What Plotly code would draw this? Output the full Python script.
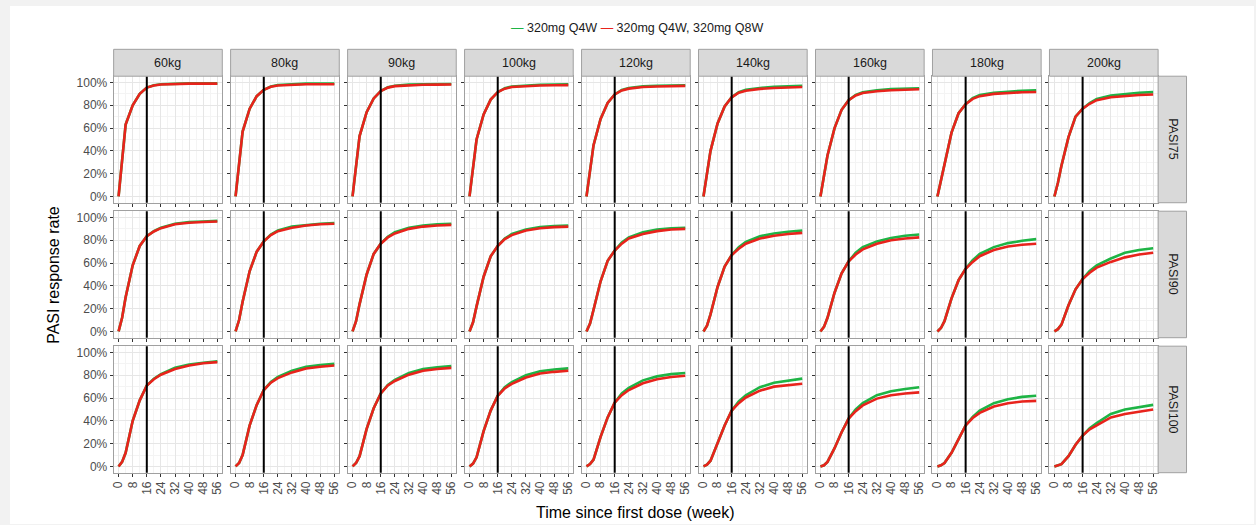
import plotly.graph_objects as go

W, H = 1256, 525

WEEKS = [0, 2, 4, 8, 12, 16, 20, 24, 32, 40, 48, 56]
REF_WEEK = 16
WEIGHTS = ["60kg", "80kg", "90kg", "100kg", "120kg", "140kg", "160kg", "180kg", "200kg"]
ENDPOINTS = ["PASI75", "PASI90", "PASI100"]
Y_TICKS = [0, 20, 40, 60, 80, 100]
X_TICKS = [0, 8, 16, 24, 32, 40, 48, 56]
SERIES = ["320mg Q4W", "320mg Q4W, 320mg Q8W"]

# PASI75 response (%), one list per weight
PASI75_Q4W = [
    [0, 35, 63, 80, 90, 95.5, 97.5, 98.5, 99, 99.2, 99.2, 99.2],
    [0, 30, 57, 77, 88, 93.5, 96.5, 97.8, 98.7, 99, 99, 99],
    [0, 27, 53, 74, 86, 92.5, 95.8, 97.2, 98.2, 98.5, 98.6, 98.7],
    [0, 25, 50, 72, 85, 91.5, 95, 96.5, 97.5, 98, 98.2, 98.3],
    [0, 22, 45, 68, 82, 89.5, 93.5, 95.2, 96.6, 97.1, 97.4, 97.6],
    [0, 19, 40, 64, 79, 87, 91.5, 93.5, 95.2, 96.1, 96.6, 97],
    [0, 17, 36, 60, 76, 84.5, 89.2, 91.5, 93.2, 94.2, 94.7, 95],
    [0, 14, 31, 56, 73, 81, 86.3, 89, 91, 92.2, 92.8, 93.2],
    [0, 12, 27, 52, 70, 77, 82, 85.5, 88.5, 90, 91, 91.5],
]
PASI75_Q4W_Q8W = [
    [0, 35, 63, 80, 90, 95.5, 97.4, 98.3, 98.8, 99, 99, 99],
    [0, 30, 57, 77, 88, 93.5, 96.2, 97.4, 98.2, 98.5, 98.5, 98.5],
    [0, 27, 53, 74, 86, 92.5, 95.5, 96.8, 97.7, 98, 98.1, 98.2],
    [0, 25, 50, 72, 85, 91.5, 94.6, 96, 97, 97.4, 97.6, 97.7],
    [0, 22, 45, 68, 82, 89.5, 93, 94.6, 96, 96.5, 96.8, 97],
    [0, 19, 40, 64, 79, 87, 91, 92.8, 94.4, 95.2, 95.7, 96],
    [0, 17, 36, 60, 76, 84.5, 88.6, 90.7, 92.3, 93.2, 93.7, 94],
    [0, 14, 31, 56, 73, 81, 85.6, 88, 90, 91, 91.4, 91.7],
    [0, 12, 27, 52, 70, 77, 81.3, 84.5, 87, 88.3, 89, 89.5],
]
# PASI90 response (%)
PASI90_Q4W = [
    [0, 12, 30, 58, 75, 83.5, 88, 91, 94.5, 96, 96.5, 97],
    [0, 10, 26, 53, 70, 79, 85, 88.5, 92, 93.5, 94.5, 95],
    [0, 9, 24, 50, 68, 77, 83, 87, 91, 93, 94, 94.5],
    [0, 8, 22, 48, 66, 75, 81.5, 85.5, 89.5, 91.5, 92.5, 93],
    [0, 7, 19, 44, 62, 71, 78, 82.5, 87, 89.5, 90.5, 91],
    [0, 5, 15, 39, 57, 67, 74, 78.5, 83.5, 86, 87.5, 88.5],
    [0, 4, 12, 34, 51, 61.5, 69, 74, 79, 82, 84, 85],
    [0, 3, 9, 29, 45, 55, 62.5, 68, 74, 77.5, 79.5, 81],
    [0, 2, 6, 23, 37, 46, 53, 58, 64, 69, 71.5, 73],
]
PASI90_Q4W_Q8W = [
    [0, 12, 30, 58, 75, 83.5, 87.7, 90.6, 94, 95.4, 96, 96.5],
    [0, 10, 26, 53, 70, 79, 84.5, 88, 91, 93, 94, 94.5],
    [0, 9, 24, 50, 68, 77, 82.5, 86, 90, 92, 93, 93.5],
    [0, 8, 22, 48, 66, 75, 81, 84.5, 88.5, 90.5, 91.5, 92],
    [0, 7, 19, 44, 62, 71, 77, 81.5, 85.5, 88, 89.5, 90],
    [0, 5, 15, 39, 57, 67, 72.5, 77, 81.5, 84, 85.5, 86.5],
    [0, 4, 12, 34, 51, 61.5, 67.5, 72, 77, 80, 81.5, 82.5],
    [0, 3, 9, 29, 45, 55, 61, 66, 71.5, 74.5, 76, 77],
    [0, 2, 6, 23, 37, 46, 51.5, 56, 61, 65, 67.5, 69],
]
# PASI100 response (%)
PASI100_Q4W = [
    [0, 4, 12, 40, 58, 71, 77, 81, 86.5, 89.5, 91, 92.3],
    [0, 3, 10, 36, 54, 67, 74, 78.5, 84, 87.5, 89, 90],
    [0, 3, 9, 33, 51, 64, 71.5, 76, 82, 85.5, 87, 88],
    [0, 2.5, 8, 31, 49, 62, 69.5, 74, 80, 83.5, 85, 86],
    [0, 2, 6, 26, 43, 56, 64, 69, 75.5, 79, 81, 82],
    [0, 1.5, 5, 21, 36, 49, 57, 62.5, 69.5, 73.5, 75.5, 77],
    [0, 1, 4, 16, 30, 42, 50, 55.5, 62.5, 66, 68, 69.5],
    [0, 1, 3, 12, 24, 36, 43.5, 49, 55.5, 59, 61, 62],
    [0, 1, 2, 9, 19, 27, 33.5, 38, 46, 50, 52, 54],
]
PASI100_Q4W_Q8W = [
    [0, 4, 12, 40, 58, 71, 76.5, 80.5, 85.5, 88.5, 90.5, 91.5],
    [0, 3, 10, 36, 54, 67, 73.5, 77.5, 82.5, 86, 87.5, 88.5],
    [0, 3, 9, 33, 51, 64, 71, 75, 80.5, 84, 85.5, 86.5],
    [0, 2.5, 8, 31, 49, 62, 68.5, 72.5, 78, 81.5, 83, 84],
    [0, 2, 6, 26, 43, 56, 62.5, 67, 73, 76.5, 78.5, 79.5],
    [0, 1.5, 5, 21, 36, 49, 55.5, 60.5, 66.5, 70, 71.5, 72.5],
    [0, 1, 4, 16, 30, 42, 48.5, 53.5, 59.5, 62.5, 64, 65],
    [0, 1, 3, 12, 24, 36, 42.5, 47, 52.5, 55.5, 57, 57.5],
    [0, 1, 2, 9, 19, 27, 32.5, 36, 43, 46, 48, 50],
]

DATA = {
    "PASI75": (PASI75_Q4W, PASI75_Q4W_Q8W),
    "PASI90": (PASI90_Q4W, PASI90_Q4W_Q8W),
    "PASI100": (PASI100_Q4W, PASI100_Q4W_Q8W),
}

GREEN = "#1EB445"
RED = "#E8231C"
FONT = "Liberation Sans, Arial, sans-serif"

# layout geometry in pixels
PX_LEFT, PX_STEP, PX_W = 112.0, 117.35, 109.0
ROW_TOPS = [75.5, 211.0, 346.5]
PX_H = 127.0
STRIP_H = 27.0
RSTRIP_W = 28.5

fig = go.Figure()
layout = {}
shapes = []
annotations = []

# page background (light grey margins)
shapes.append(dict(type="rect", xref="paper", yref="paper", x0=8 / W, x1=1, y0=0, y1=1 - 5 / H,
                   fillcolor="white", line=dict(width=0), layer="below"))

for r, ep in enumerate(ENDPOINTS):
    g_list, r_list = DATA[ep]
    for c, wt in enumerate(WEIGHTS):
        k = r * len(WEIGHTS) + c + 1
        xs = "" if k == 1 else str(k)
        x0p = PX_LEFT + c * PX_STEP
        x1p = x0p + PX_W
        y0p = ROW_TOPS[r]
        y1p = y0p + PX_H
        xd = [x0p / W, x1p / W]
        yd = [1 - y1p / H, 1 - y0p / H]
        layout["xaxis" + xs] = dict(
            domain=xd, anchor="y" + xs, range=[-2.8, 58.8],
            tickvals=X_TICKS, ticktext=[str(v) for v in X_TICKS],
            showticklabels=(r == len(ENDPOINTS) - 1),
            tickangle=-90, ticks="outside", ticklen=3, tickcolor="#333333", tickwidth=1,
            tickfont=dict(family=FONT, size=12, color="#4D4D4D"),
            showgrid=True, gridcolor="#E6E6E6", gridwidth=1,
            minor=dict(dtick=4, tick0=0, showgrid=True, gridcolor="#F4F4F4", gridwidth=1, ticks=""),
            showline=True, mirror=True, linecolor="#A0A0A0", linewidth=1,
            zeroline=False, fixedrange=True,
        )
        layout["yaxis" + xs] = dict(
            domain=yd, anchor="x" + xs, range=[-5.5, 105.5],
            tickvals=Y_TICKS, ticktext=[f"{v}%" for v in Y_TICKS],
            showticklabels=(c == 0),
            ticks="outside", ticklen=3, tickcolor="#333333", tickwidth=1,
            tickfont=dict(family=FONT, size=12, color="#4D4D4D"),
            showgrid=True, gridcolor="#E6E6E6", gridwidth=1,
            minor=dict(dtick=10, tick0=0, showgrid=True, gridcolor="#F4F4F4", gridwidth=1, ticks=""),
            showline=True, mirror=True, linecolor="#A0A0A0", linewidth=1,
            zeroline=False, fixedrange=True,
        )
        fig.add_trace(go.Scatter(x=WEEKS, y=g_list[c], mode="lines", name=SERIES[0],
                                 line=dict(color=GREEN, width=2.6), showlegend=False,
                                 xaxis="x" + xs, yaxis="y" + xs))
        fig.add_trace(go.Scatter(x=WEEKS, y=r_list[c], mode="lines", name=SERIES[1],
                                 line=dict(color=RED, width=2.6), showlegend=False,
                                 xaxis="x" + xs, yaxis="y" + xs))
        shapes.append(dict(type="line", xref="x" + xs, yref="y" + xs + " domain",
                           x0=REF_WEEK, x1=REF_WEEK, y0=0, y1=1,
                           line=dict(color="black", width=2)))
        # top strips
        if r == 0:
            shapes.append(dict(type="rect", xref="paper", yref="paper",
                               x0=xd[0], x1=xd[1], y0=1 - y0p / H, y1=1 - (y0p - STRIP_H) / H,
                               fillcolor="#D9D9D9", line=dict(color="#A0A0A0", width=1)))
            annotations.append(dict(text=wt, xref="paper", yref="paper",
                                    x=(xd[0] + xd[1]) / 2, y=1 - (y0p - STRIP_H / 2) / H,
                                    showarrow=False, xanchor="center", yanchor="middle",
                                    font=dict(family=FONT, size=12.5, color="#1A1A1A")))
        # right strips
        if c == len(WEIGHTS) - 1:
            shapes.append(dict(type="rect", xref="paper", yref="paper",
                               x0=x1p / W, x1=(x1p + RSTRIP_W) / W, y0=yd[0], y1=yd[1],
                               fillcolor="#D9D9D9", line=dict(color="#A0A0A0", width=1)))
            annotations.append(dict(text=ep, xref="paper", yref="paper",
                                    x=(x1p + RSTRIP_W / 2) / W, y=(yd[0] + yd[1]) / 2,
                                    showarrow=False, textangle=90, xanchor="center", yanchor="middle",
                                    font=dict(family=FONT, size=12.5, color="#1A1A1A")))

# axis titles
annotations.append(dict(text="PASI response rate", xref="paper", yref="paper",
                        x=52 / W, y=1 - 275 / H, showarrow=False, textangle=-90,
                        xanchor="center", yanchor="middle",
                        font=dict(family=FONT, size=16, color="black")))
annotations.append(dict(text="Time since first dose (week)", xref="paper", yref="paper",
                        x=636 / W, y=1 - 513 / H, showarrow=False,
                        xanchor="center", yanchor="middle",
                        font=dict(family=FONT, size=16, color="black")))
# legend
annotations.append(dict(
    text=f"<span style='color:{GREEN}'>—</span> {SERIES[0]} <span style='color:{RED}'>—</span> {SERIES[1]}",
    xref="paper", yref="paper", x=637 / W, y=1 - 27 / H, showarrow=False,
    xanchor="center", yanchor="middle",
    font=dict(family=FONT, size=12.5, color="#1A1A1A")))

fig.update_layout(
    width=W, height=H,
    margin=dict(l=0, r=0, t=0, b=0),
    paper_bgcolor="#F2F2F2", plot_bgcolor="white",
    showlegend=False,
    shapes=shapes, annotations=annotations,
    **layout,
)

fig.write_html("out.html")
